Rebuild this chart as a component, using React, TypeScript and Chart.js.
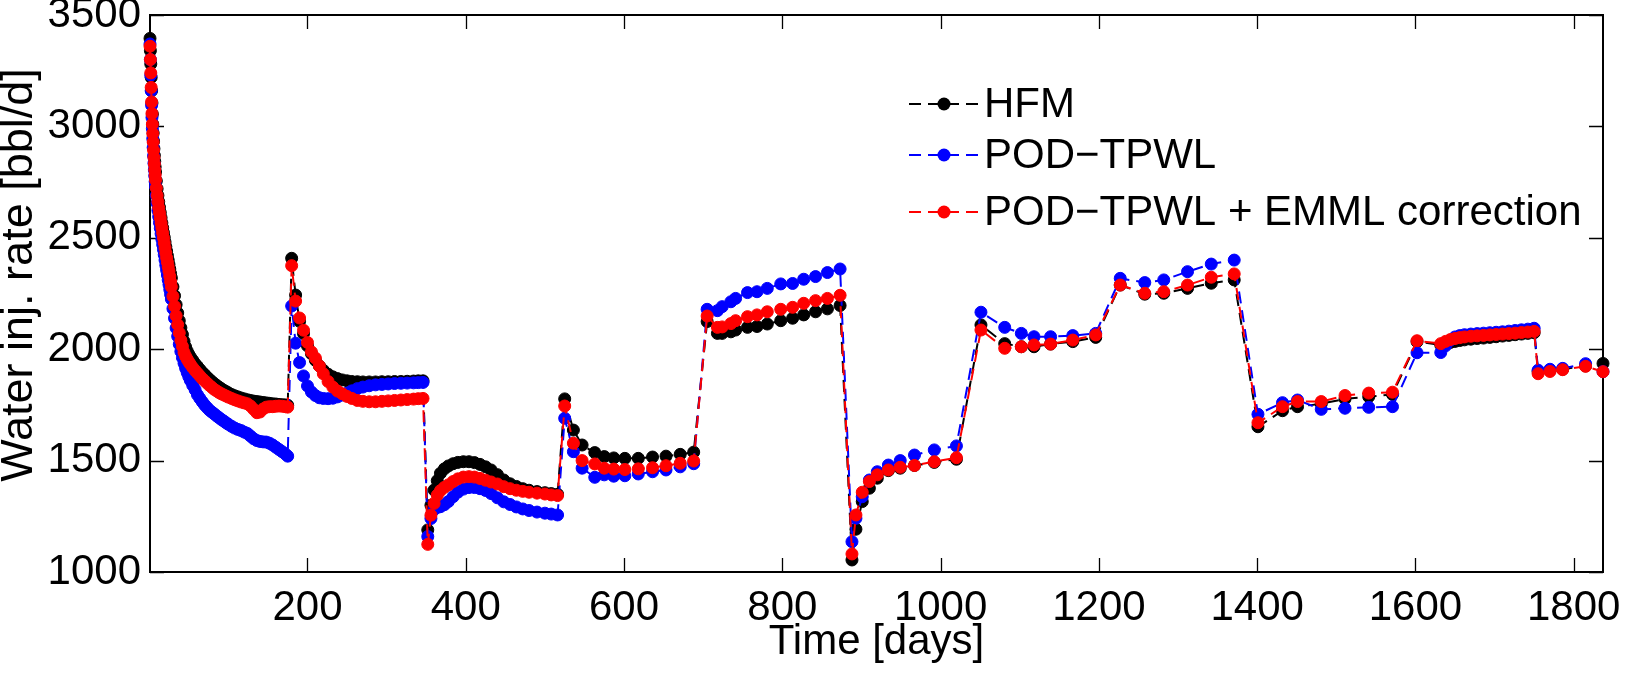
import React, { useEffect, useRef } from "react";
import { Chart, registerables } from "chart.js";

Chart.register(...registerables);

// Report times (days) shared by all three runs
const days = [
  1, 1.5, 2, 2.5, 3, 3.5, 4, 4.5, 5, 5.5, 6, 6.5, 7, 7.5, 8,
  9, 10, 11, 12, 13, 14, 15, 16, 17, 18, 19, 20, 21, 22, 23, 24, 25, 26, 27, 28,
  30, 32, 34, 36, 38, 40, 42, 44, 46, 48, 50, 52,
  55, 58, 61, 64, 67, 70, 73, 76, 79, 82, 85, 88, 91, 94, 97, 100,
  104, 108, 112, 116, 120, 124, 128, 132, 136, 140, 144, 148, 152, 156, 160, 164, 168, 172, 175,
  180, 185, 190, 195, 200, 205, 210, 215, 220, 226, 232, 238, 244, 250, 256, 263, 270, 278, 286, 294, 302, 310, 318, 326, 334, 340, 346,
  352, 356, 360, 364, 368, 373, 378, 384, 390, 397, 404, 411, 418, 425, 432, 440, 448, 456, 464, 472, 480, 490, 500, 508, 516,
  525, 536, 547, 563, 575, 587, 601, 618, 636, 653, 671, 688,
  705, 718, 724, 735, 741, 756, 768, 781, 798, 813, 827, 842, 857, 873,
  888, 893, 901, 910, 920, 934, 949, 967, 992, 1020,
  1051, 1081, 1102, 1118, 1139, 1167, 1196,
  1227, 1258, 1282, 1312, 1342, 1371,
  1401, 1432, 1451, 1481, 1511, 1541, 1571,
  1602, 1632, 1638, 1644, 1650, 1656, 1662, 1670, 1678, 1686, 1694, 1702, 1710, 1718, 1726, 1734, 1742, 1750,
  1755, 1770, 1786, 1815, 1837,
];

// High-fidelity model
const hfmRate = [
  3395, 3340, 3280, 3220, 3160, 3105, 3055, 3010, 2970, 2933, 2900, 2870, 2843, 2818, 2795,
  2755, 2720, 2690, 2662, 2637, 2613, 2590, 2567, 2545, 2523, 2502, 2481, 2460, 2440, 2420, 2400, 2380, 2360, 2340, 2320,
  2280, 2240, 2200, 2163, 2128, 2096, 2066, 2035, 2010, 1992, 1977, 1965,
  1950, 1935, 1922, 1909, 1897, 1886, 1875, 1865, 1855, 1846, 1838, 1830, 1823, 1816, 1810, 1804,
  1797, 1791, 1786, 1781, 1777, 1773, 1770, 1767, 1765, 1763, 1761, 1759, 1757, 1755, 1754, 1752, 1751, 1750, 1748,
  2408, 2243, 2125, 2070, 2015, 1980, 1950, 1925, 1905, 1888, 1876, 1868, 1862, 1858, 1855, 1854, 1853, 1853, 1853, 1854, 1854, 1855, 1855, 1856, 1857, 1858, 1858,
  1189, 1300, 1368, 1410, 1443, 1463, 1476, 1486, 1492, 1495, 1495, 1491, 1483, 1472, 1458, 1437, 1413, 1396, 1384, 1374, 1367, 1361, 1356, 1352, 1349,
  1777, 1637, 1570, 1536, 1518, 1512, 1510, 1510, 1516, 1520, 1528, 1538,
  2124, 2071, 2071, 2078, 2086, 2098, 2102, 2113, 2128, 2139, 2154, 2168, 2181, 2196,
  1054, 1192, 1316, 1376, 1421, 1455, 1466, 1478, 1492, 1506,
  2109, 2025, 2011, 2011, 2023, 2034, 2053,
  2288, 2247, 2251, 2273, 2296, 2311,
  1652, 1724, 1742, 1755, 1777, 1787, 1797,
  2034, 2019, 2024, 2030, 2035, 2039, 2042, 2045, 2048, 2050, 2053, 2056, 2059, 2062, 2065, 2068, 2071, 2074,
  1900, 1905, 1910, 1925, 1936,
];

// Reduced-order model
const podRate = [
  3370, 3300, 3230, 3160, 3095, 3040, 2990, 2945, 2905, 2868, 2835, 2805, 2778, 2752, 2730,
  2690, 2655, 2623, 2595, 2568, 2543, 2518, 2494, 2470, 2447, 2424, 2400, 2377, 2355, 2333, 2311, 2290, 2268, 2246, 2225,
  2182, 2139, 2095, 2058, 2022, 1990, 1962, 1937, 1915, 1895, 1877, 1860,
  1838, 1818, 1795, 1779, 1764, 1750, 1738, 1727, 1718, 1710, 1701, 1693, 1685, 1678, 1670, 1663,
  1654, 1646, 1640, 1635, 1628, 1622, 1610, 1598, 1590, 1586, 1584, 1583, 1578, 1570, 1560, 1550, 1540, 1530, 1520,
  2194, 2027, 1940, 1880, 1835, 1808, 1792, 1782, 1779, 1778, 1780, 1786, 1794, 1803, 1813, 1823, 1830, 1836, 1840, 1842, 1844, 1846, 1847, 1848, 1849, 1850, 1851,
  1159, 1240, 1280, 1290, 1293, 1302, 1316, 1338, 1358, 1372, 1379, 1379, 1374, 1366, 1352, 1333, 1315, 1303, 1292, 1283, 1276, 1269, 1264, 1260, 1256,
  1690, 1540, 1466, 1425, 1436, 1430, 1432, 1440, 1450, 1458, 1472, 1486,
  2179, 2173, 2191, 2213, 2228, 2254, 2258, 2273, 2293, 2295, 2314, 2326, 2344, 2360,
  1136, 1241, 1338, 1413, 1450, 1480, 1500, 1525, 1548, 1566,
  2166, 2098, 2071, 2056, 2056, 2061, 2071,
  2318, 2299, 2311, 2348, 2382, 2400,
  1708, 1760, 1772, 1730, 1735, 1739, 1742,
  1984, 1985, 2015, 2040, 2055, 2061, 2065, 2068, 2070, 2072, 2074, 2076, 2078, 2081, 2084, 2087, 2090, 2094,
  1906, 1910, 1914, 1935, 1899,
];

// Reduced-order model with error correction
const emmlRate = [
  3360, 3300, 3240, 3175, 3110, 3058, 3010, 2968, 2930, 2893, 2860, 2832, 2805, 2782, 2760,
  2723, 2690, 2662, 2635, 2612, 2590, 2567, 2545, 2522, 2500, 2478, 2455, 2432, 2410, 2390, 2370, 2350, 2327, 2303, 2280,
  2237, 2193, 2150, 2110, 2073, 2040, 2012, 1985, 1968, 1955, 1943, 1932,
  1917, 1904, 1892, 1880, 1868, 1858, 1848, 1838, 1829, 1820, 1813, 1806, 1800, 1795, 1790, 1785,
  1779, 1773, 1768, 1763, 1759, 1755, 1745, 1730, 1715, 1718, 1732, 1740, 1742, 1742, 1744, 1745, 1744, 1742, 1740,
  2375, 2216, 2140, 2085, 2030, 1988, 1960, 1925, 1890, 1855, 1830, 1812, 1800, 1788, 1779, 1770, 1766, 1764, 1764, 1766, 1768, 1770, 1772, 1774, 1776, 1778, 1779,
  1124, 1255, 1308, 1345, 1365, 1380, 1391, 1406, 1418, 1426, 1428, 1426, 1420, 1412, 1404, 1395, 1383, 1374, 1367, 1362, 1358, 1354, 1350, 1346, 1343,
  1745, 1578, 1500, 1485, 1466, 1462, 1460, 1463, 1468, 1477, 1488, 1498,
  2149, 2098, 2100, 2115, 2128, 2146, 2154, 2168, 2179, 2188, 2206, 2218, 2228, 2242,
  1081, 1256, 1358, 1406, 1436, 1458, 1470, 1478, 1495, 1513,
  2086, 2004, 2011, 2019, 2023, 2041, 2064,
  2288, 2251, 2258, 2288, 2323, 2338,
  1670, 1742, 1765, 1765, 1792, 1803, 1807,
  2038, 2025, 2035, 2043, 2048, 2052, 2055, 2058, 2060, 2062, 2064, 2066, 2068, 2070, 2072, 2075, 2077, 2080,
  1890, 1900, 1908, 1923, 1899,
];

const xTicks = [200, 400, 600, 800, 1000, 1200, 1400, 1600, 1800];
const yTicks = [1000, 1500, 2000, 2500, 3000, 3500];
const seriesNames = ["HFM", "POD\u2212TPWL", "POD\u2212TPWL + EMML correction"];
const seriesColors = ["#000000", "#0000ff", "#ff0000"];
const seriesRates = [hfmRate, podRate, emmlRate];

const FONT = '"Liberation Sans", Arial, Helvetica, sans-serif';
const FONT_SIZE = 42;
const YTITLE_SIZE = 45;
const DASH = [12, 7];

// Box around the axes with inward tick marks on all four sides
const framePlugin = {
  id: "matlabFrame",
  beforeDatasetsDraw(chart: any) {
    const { ctx, chartArea: a, scales } = chart;
    const tl = 14;
    ctx.save();
    ctx.strokeStyle = "#000";
    ctx.lineWidth = 1.3;
    ctx.beginPath();
    for (const v of xTicks) {
      const x = Math.round(scales.x.getPixelForValue(v)) + 0.5;
      ctx.moveTo(x, a.bottom);
      ctx.lineTo(x, a.bottom - tl);
      ctx.moveTo(x, a.top);
      ctx.lineTo(x, a.top + tl);
    }
    for (const v of yTicks) {
      const y = Math.round(scales.y.getPixelForValue(v)) + 0.5;
      ctx.moveTo(a.left, y);
      ctx.lineTo(a.left + tl, y);
      ctx.moveTo(a.right, y);
      ctx.lineTo(a.right - tl, y);
    }
    ctx.stroke();
    ctx.lineWidth = 2;
    ctx.strokeRect(a.left, a.top, a.right - a.left, a.bottom - a.top);
    ctx.restore();
  },
};

// Axis titles and the line/marker legend
const labelsPlugin = {
  id: "matlabLabels",
  afterDraw(chart: any) {
    const { ctx, chartArea: a } = chart;
    ctx.save();
    ctx.fillStyle = "#000";
    ctx.font = `${FONT_SIZE}px ${FONT}`;
    ctx.textAlign = "center";
    ctx.textBaseline = "middle";
    ctx.fillText("Time [days]", (a.left + a.right) / 2, 642);

    ctx.save();
    ctx.font = `${YTITLE_SIZE}px ${FONT}`;
    ctx.translate(20, 275);
    ctx.rotate(-Math.PI / 2);
    ctx.fillText("Water inj. rate [bbl/d]", 0, 0);
    ctx.restore();

    const lx0 = 909;
    const lx1 = 979;
    const textX = 984;
    const rowY = [104, 155, 212];
    ctx.textAlign = "left";
    for (let i = 0; i < seriesNames.length; i++) {
      const y = rowY[i];
      ctx.strokeStyle = seriesColors[i];
      ctx.lineWidth = 2;
      ctx.setLineDash(DASH);
      ctx.beginPath();
      ctx.moveTo(lx0, y);
      ctx.lineTo(lx1, y);
      ctx.stroke();
      ctx.setLineDash([]);
      ctx.fillStyle = seriesColors[i];
      ctx.beginPath();
      ctx.arc((lx0 + lx1) / 2, y, 6.5, 0, Math.PI * 2);
      ctx.fill();
      ctx.fillStyle = "#000";
      ctx.fillText(seriesNames[i], textX, y + 1);
    }
    ctx.restore();
  },
};

export default function App() {
  const canvasRef = useRef<HTMLCanvasElement | null>(null);

  useEffect(() => {
    document.body.style.margin = "0";
    const canvas = canvasRef.current;
    if (!canvas) return;

    const datasets = seriesNames.map((name, i) => ({
      label: name,
      data: days.map((d, k) => ({ x: d, y: seriesRates[i][k] })),
      borderColor: seriesColors[i],
      backgroundColor: seriesColors[i],
      pointBackgroundColor: seriesColors[i],
      pointBorderColor: seriesColors[i],
      borderWidth: 2,
      borderDash: DASH,
      pointRadius: 6,
      pointBorderWidth: 1,
      tension: 0,
      clip: false as any,
      order: seriesNames.length - 1 - i,
    }));

    const tickFont = { family: FONT, size: FONT_SIZE };

    const chart = new Chart(canvas, {
      type: "line",
      data: { datasets },
      plugins: [framePlugin, labelsPlugin],
      options: {
        animation: false,
        responsive: true,
        maintainAspectRatio: false,
        layout: { padding: { top: 15, right: 39, left: 0, bottom: 0 } },
        plugins: {
          legend: { display: false },
          tooltip: { enabled: false },
        },
        scales: {
          x: {
            type: "linear",
            min: 1,
            max: 1837,
            grid: { display: false, drawTicks: false },
            border: { display: false },
            ticks: {
              font: tickFont,
              color: "#000",
              padding: 11,
              maxRotation: 0,
              autoSkip: false,
              callback: (v: any) => String(v),
            },
            afterBuildTicks: (s: any) => {
              s.ticks = xTicks.map((v) => ({ value: v }));
            },
            afterFit: (s: any) => {
              s.height = 112;
              s.paddingLeft = 0;
              s.paddingRight = 0;
            },
          },
          y: {
            type: "linear",
            min: 1000,
            max: 3500,
            grid: { display: false, drawTicks: false },
            border: { display: false },
            ticks: {
              font: tickFont,
              color: "#000",
              padding: 9,
              autoSkip: false,
              callback: (v: any) => String(v),
            },
            afterBuildTicks: (s: any) => {
              s.ticks = yTicks.map((v) => ({ value: v }));
            },
            afterFit: (s: any) => {
              s.width = 150;
              s.paddingTop = 0;
              s.paddingBottom = 0;
            },
          },
        },
      },
    });

    return () => chart.destroy();
  }, []);

  return (
    <div style={{ width: 1642, height: 684, position: "relative", background: "#fff" }}>
      <canvas ref={canvasRef} />
    </div>
  );
}
